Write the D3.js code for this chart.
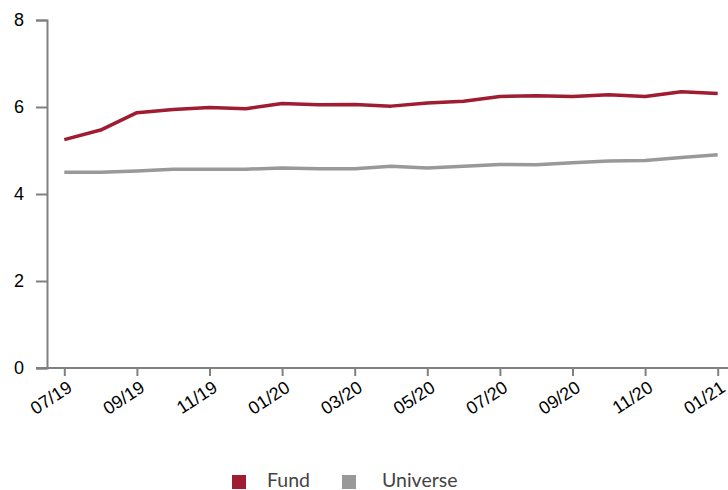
<!DOCTYPE html>
<html>
<head>
<meta charset="utf-8">
<script src="https://cdn.jsdelivr.net/npm/d3@7"></script>
<style>
  body { margin: 0; background: #fff; }
  svg { display: block; }
  .tick text { font-family: "Liberation Sans", Arial, sans-serif; fill: #000; }
</style>
</head>
<body>
<svg></svg>
<script>
// monthly data, 07/19 .. 01/21
var months = ["07/19","08/19","09/19","10/19","11/19","12/19","01/20","02/20","03/20","04/20",
              "05/20","06/20","07/20","08/20","09/20","10/20","11/20","12/20","01/21"];
var fund = [5.25, 5.47, 5.87, 5.94, 5.99, 5.96, 6.08, 6.05, 6.06, 6.02,
            6.09, 6.13, 6.24, 6.26, 6.24, 6.28, 6.24, 6.35, 6.31];
var universe = [4.50, 4.50, 4.53, 4.57, 4.57, 4.57, 4.60, 4.58, 4.58, 4.64,
                4.60, 4.64, 4.68, 4.67, 4.72, 4.76, 4.77, 4.84, 4.90];
var yTicks = [0, 2, 4, 6, 8];
var seriesNames = ["Fund", "Universe"];
var seriesColors = ["#a01c31", "#999999"];

var svgWidth = 728, svgHeight = 490;
var svg = d3.select("svg")
    .attr("width", svgWidth)
    .attr("height", svgHeight);

var xScale = d3.scalePoint()
    .domain(months)
    .range([64.3, 717.7]);

var yScale = d3.scaleLinear()
    .domain([0, 8])
    .range([368, 20]);

var axisColor = "#808080";

// y axis
var y_axis = d3.axisLeft(yScale)
    .tickValues(yTicks)
    .tickSize(11)
    .tickPadding(12);

var gy = svg.append("g")
    .attr("transform", "translate(47, 0)")
    .call(y_axis);
gy.selectAll("path, line").attr("stroke", axisColor).attr("stroke-width", 2);
gy.selectAll("text").style("font-size", "18px");

// x axis
var x_axis = d3.axisBottom(xScale)
    .tickValues(months.filter(function(d, i) { return i % 2 === 0; }))
    .tickSize(8);

var gx = svg.append("g")
    .attr("transform", "translate(0, 368)")
    .call(x_axis);
gx.select(".domain").remove();
gx.selectAll("line").attr("stroke", axisColor).attr("stroke-width", 2);
gx.selectAll("text")
    .style("font-size", "18px")
    .attr("text-anchor", "end")
    .attr("x", -3)
    .attr("y", 14)
    .attr("dy", "0.35em")
    .attr("transform", "translate(0, 4) rotate(-33)");

svg.append("line")
    .attr("x1", 36).attr("x2", svgWidth)
    .attr("y1", 368).attr("y2", 368)
    .attr("stroke", axisColor)
    .attr("stroke-width", 2);

// lines
var line = d3.line()
    .x(function(d, i) { return xScale(months[i]); })
    .y(function(d) { return yScale(d); });

[universe, fund].forEach(function(s, k) {
    svg.append("path")
        .datum(s)
        .attr("fill", "none")
        .attr("stroke", k === 0 ? seriesColors[1] : seriesColors[0])
        .attr("stroke-width", 3.5)
        .attr("stroke-linejoin", "round")
        .attr("d", line);
});

// legend
var legendX = [232, 342], legendTextX = [267, 382];
var legend = svg.selectAll(".legend")
    .data(seriesNames)
    .enter()
    .append("g")
    .attr("class", "legend");

legend.append("rect")
    .attr("x", function(d, i) { return legendX[i]; })
    .attr("y", 475)
    .attr("width", 14)
    .attr("height", 14)
    .attr("fill", function(d, i) { return seriesColors[i]; });

legend.append("text")
    .attr("x", function(d, i) { return legendTextX[i]; })
    .attr("y", 487)
    .style("font-family", "Lato, 'Open Sans', sans-serif")
    .style("font-size", "19.5px")
    .attr("fill", "#444")
    .text(function(d) { return d; });
</script>
</body>
</html>
